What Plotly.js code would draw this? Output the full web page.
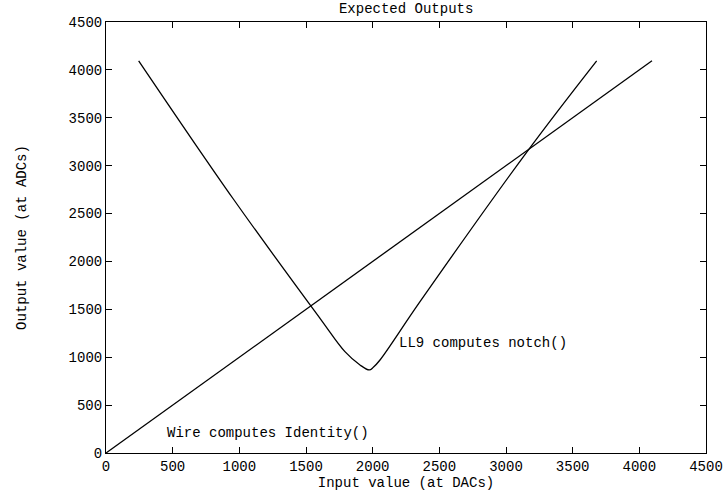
<!DOCTYPE html>
<html>
<head>
<meta charset="utf-8">
<script src="https://cdn.plot.ly/plotly-3.0.1.min.js"></script>
<style>html,body{margin:0;padding:0;background:#fff;}#chart{width:724px;height:494px;}</style>
</head>
<body>
<div id="chart"></div>
<script>
// Identity series (wire)
const identityX = [0, 4095];
const identityY = [0, 4095];

// Notch series (LL9)
const notchX = [245, 955, 1605, 1792, 1905, 1975, 2005, 2055, 2355, 3167, 3680];
const notchY = [4095, 2652, 1406, 1058, 919, 867, 895, 971, 1580, 3163, 4095];

const xTicks = [0, 500, 1000, 1500, 2000, 2500, 3000, 3500, 4000, 4500];
const yTicks = [0, 500, 1000, 1500, 2000, 2500, 3000, 3500, 4000, 4500];

const labels = ["Wire computes Identity()", "LL9 computes notch()"];
const labelX = [442, 2180];
const labelY = [209, 1148];

const FONT = "'Liberation Mono', 'Courier New', monospace";
const FS = 14;

const traces = [
  {x: identityX, y: identityY, mode: 'lines', line: {color: '#000', width: 1.3}, hoverinfo: 'skip'},
  {x: notchX, y: notchY, mode: 'lines', line: {color: '#000', width: 1.3, shape: 'spline', smoothing: 1}, hoverinfo: 'skip'}
];

const axisCommon = {
  range: [0, 4500],
  showgrid: false,
  zeroline: false,
  showline: true,
  linecolor: '#000',
  linewidth: 1,
  mirror: 'allticks',
  ticks: 'inside',
  ticklen: 6,
  tickwidth: 1,
  tickcolor: '#000',
  tickfont: {family: FONT, size: FS, color: '#000'},
  automargin: false
};

const layout = {
  width: 724, height: 494,
  margin: {l: 106, r: 18, t: 22, b: 41},
  paper_bgcolor: '#fff', plot_bgcolor: '#fff',
  showlegend: false,
  font: {family: FONT, size: FS, color: '#000'},
  title: {text: 'Expected Outputs', font: {family: FONT, size: FS, color: '#000'},
          x: 0.561, xanchor: 'center', y: 0.984, yanchor: 'middle', yref: 'container'},
  xaxis: Object.assign({}, axisCommon, {
    tickvals: xTicks, ticktext: xTicks.map(String),
    title: {text: 'Input value (at DACs)', font: {family: FONT, size: FS, color: '#000'}, standoff: 1}
  }),
  yaxis: Object.assign({}, axisCommon, {
    tickvals: yTicks, ticktext: yTicks.map(String),
    title: {text: 'Output value (at ADCs)', font: {family: FONT, size: FS, color: '#000'}, standoff: 38}
  }),
  annotations: labels.map((t, i) => ({
    x: labelX[i], y: labelY[i], xref: 'x', yref: 'y', text: t, showarrow: false,
    xanchor: 'left', yanchor: 'middle', font: {family: FONT, size: FS, color: '#000'}
  }))
};

Plotly.newPlot('chart', traces, layout, {staticPlot: true, displayModeBar: false});
</script>
</body>
</html>
